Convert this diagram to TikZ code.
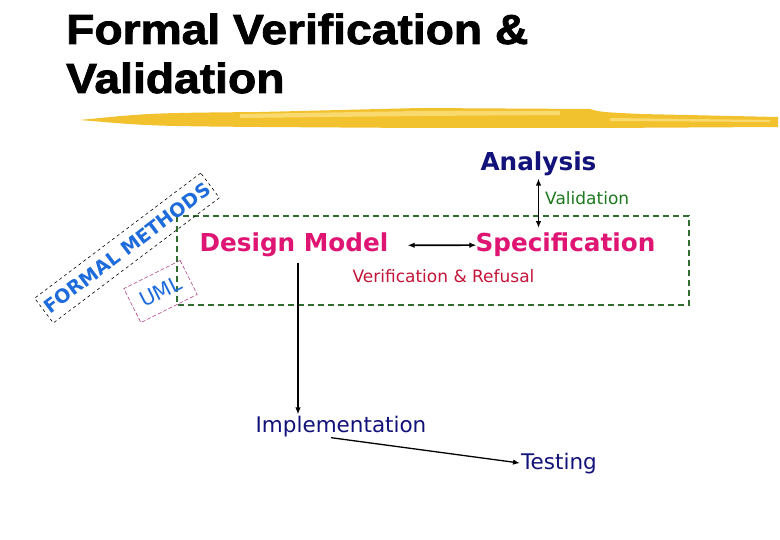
\documentclass[tikz,border=0pt]{standalone}
\usepackage{fontspec}
\setmainfont{DejaVu Sans}
\newfontfamily\titlefont{Liberation Sans}[BoldFeatures={FakeBold=2,FakeStretch=1.1}]
\usepackage{tikz}
\usetikzlibrary{positioning, calc, arrows.meta}
\definecolor{navyblue}{HTML}{12127A}
\definecolor{hotpink}{HTML}{DE1572}
\definecolor{crimson}{HTML}{C4163A}
\definecolor{leafgreen}{HTML}{1F7A1F}
\definecolor{boxgreen}{HTML}{2F6E30}
\definecolor{fmblue}{HTML}{1E6BDC}
\definecolor{umlpink}{HTML}{B03A86}
\definecolor{brushyellow}{HTML}{F2C12E}
\definecolor{brushlight}{HTML}{F8DA6E}
\tikzset{
	titlenode/.style={
			anchor=base west,
			inner sep=0pt,
			font=\titlefont\bfseries\fontsize{42}{50}\selectfont
		},
	stagenode/.style={
			inner sep=1pt,
			font=\bfseries\fontsize{24.7}{30}\selectfont
		},
	labelnode/.style={
			inner sep=1pt,
			font=\fontsize{17}{20}\selectfont
		},
	stepnode/.style={
			inner sep=1pt,
			text=navyblue,
			font=\fontsize{21.5}{26}\selectfont
		},
	tiltbox/.style={
			draw,
			dashed,
			line width=0.6pt,
			inner sep=0pt
		}
}
\tikzset{
	twoway/.style={{Latex[length=7pt,width=5.5pt]}-{Latex[length=7pt,width=5.5pt]}, line width=1.6pt},
	oneway/.style={-{Latex[length=7pt,width=5.5pt]}, line width=1.6pt}
}

\begin{document}
\begin{tikzpicture}[x=1pt, y=-1pt]
  \useasboundingbox[fill=white] (0,0) rectangle (780,540);

  % title and brush stroke
  \node[titlenode] (title1) at (66,44) {Formal Verification \&};
  \node[titlenode] (title2) at (66,93) {Validation};
  \fill[brushyellow] (80,120) .. controls (150,113) .. (260,112) -- (420,108) -- (590,109)
    .. controls (600,112) .. (640,114) -- (778,117) -- (778,127) -- (600,128) -- (420,128) -- (260,127)
    .. controls (150,126) .. (80,120) -- cycle;
  \fill[brushlight] (240,114) -- (420,111) -- (560,111) -- (560,115) -- (420,116) -- (240,118) -- cycle;
  \fill[brushlight] (610,118) -- (770,120) -- (770,122) -- (610,121) -- cycle;

  % dashed frame
  \draw[boxgreen, dashed, line width=1.8pt, dash pattern=on 6pt off 4pt] (177,216) rectangle (689,305);

  \node[stagenode, text=navyblue, anchor=base] (analysis) at (538.5,171) {Analysis};
  \node[stagenode, text=hotpink, anchor=base] (design) at (294,252) {Design Model};
  \node[stagenode, text=hotpink, anchor=base] (spec) at (565.5,252) {Specification};

  \node[labelnode, text=leafgreen, anchor=base west] (valid) at (544,205) {Validation};
  \node[labelnode, text=crimson, anchor=base] (verif) at (443.5,283) {Verification \& Refusal};

  \node[stepnode, anchor=base] (impl) at (341,432) {Implementation};
  \node[stepnode, anchor=base west] (test) at (520,469) {Testing};

  \node[tiltbox, rotate=37, minimum width=208pt, minimum height=31pt, text=fmblue,
    font=\bfseries\fontsize{19}{23}\selectfont] (fm) at (127,248) {FORMAL METHODS};
  \node[tiltbox, draw=umlpink, dash pattern=on 4pt off 2pt, rotate=26.6, minimum width=63pt,
    minimum height=38pt, text=fmblue, font=\fontsize{20.5}{24}\selectfont] (uml) at (160.5,291.5) {UML};

  \draw[twoway, shorten >=4pt, shorten <=1pt] (analysis.south) -- (analysis.south |- spec.north);
  \draw[twoway, shorten <=18pt, shorten >=-2pt] (design.east) -- (spec.west);
  \draw[oneway, shorten <=4pt] ([xshift=4pt]design.south) -- ([xshift=4pt]design.south |- impl.north);
  \draw[oneway, line width=1.3pt] ([xshift=-10pt]impl.south) -- (test.west);

\end{tikzpicture}
\end{document}
